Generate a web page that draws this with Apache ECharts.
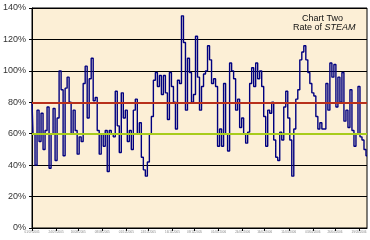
<!DOCTYPE html>
<html><head><meta charset="utf-8">
<script src="https://cdn.jsdelivr.net/npm/echarts@6/dist/echarts.min.js"></script>
<style>html,body{margin:0;padding:0;background:#fff}#c{width:370px;height:240px}</style>
</head><body><div id="c"></div>
<script>
var steamRate = [80,60,40,75,55,73,50,62,77,38,60,76,43,70,100,88,46,89,96,80,60,75,62,47,58,55,92,103,70,95,108,81,83,62,47,60,52,62,36,62,60,58,87,65,48,86,70,75,55,62,50,75,82,60,67,45,37,33,42,60,71,94,99,90,97,85,97,86,69,99,90,80,63,94,92,135,118,75,108,99,80,85,122,96,75,90,98,100,116,107,92,95,90,52,63,52,92,60,49,105,100,95,75,82,64,70,60,54,61,92,102,90,105,95,100,90,71,52,75,73,80,56,45,43,61,56,77,87,70,56,33,63,82,88,107,112,116,107,99,92,86,84,71,63,67,63,63,92,75,105,96,104,77,96,80,99,68,75,64,88,62,52,60,90,58,56,50,46];
var tickLabels = ['01/07/2005','24/07/2005','16/08/2005','08/09/2005','01/10/2005','24/10/2005','16/11/2005','09/12/2005','01/01/2006','24/01/2006','16/02/2006','11/03/2006','03/04/2006','26/04/2006','19/05/2006'];
var yTicks = [0,20,40,60,80,100,120,140];
var limitHigh = 80, limitLow = 60;

var n = steamRate.length;
var step = (n - 1) / 14.35;
var tickIdx = {};
tickLabels.forEach(function(l, k){ var i = Math.round(k * step); if (i < n) tickIdx[i] = l; });
var cats = steamRate.map(function(_, i){ return String(i); });

var chart = echarts.init(document.getElementById('c'), null, {renderer:'canvas'});
chart.setOption({
  animation:false,
  backgroundColor:'#ffffff',
  grid:{left:32,right:3,top:8,bottom:12,show:true,backgroundColor:'#fcefd6',borderColor:'#000',borderWidth:1},
  xAxis:{type:'category',data:cats,boundaryGap:false,
    axisLine:{lineStyle:{color:'#000',width:1}},
    axisTick:{show:true,length:3,lineStyle:{color:'#000'},interval:function(i){return tickIdx.hasOwnProperty(i);}},
    axisLabel:{interval:function(i){return tickIdx.hasOwnProperty(i);},formatter:function(v,i){return tickIdx[i]||'';},
      fontSize:3,color:'#888',margin:3,fontFamily:'Liberation Sans'},
    splitLine:{show:false}},
  yAxis:{type:'value',min:0,max:140,interval:20,
    axisLine:{show:true,lineStyle:{color:'#000',width:1}},
    axisTick:{show:true,length:3,lineStyle:{color:'#000'}},
    axisLabel:{formatter:function(v){return v+'%';},fontSize:9,color:'#333',margin:6,fontFamily:'Liberation Sans'},
    splitLine:{show:true,lineStyle:{color:'#000',width:1}}},
  series:[{type:'line',data:steamRate,step:'middle',symbol:'none',
    lineStyle:{color:'#000080',width:1.4},
    markLine:{silent:true,symbol:'none',label:{show:false},animation:false,
      data:[{yAxis:limitHigh,lineStyle:{color:'#b8301c',width:2,type:'solid'}},
            {yAxis:limitLow,lineStyle:{color:'#a8cc1c',width:2,type:'solid'}}]}}],
  graphic:[{type:'text',left:302,top:14,style:{text:'Chart Two',font:'9px "Liberation Sans"',fill:'#111'}},
    {type:'text',left:293,top:23,style:{text:'{a|Rate of }{b|STEAM}',rich:{a:{font:'9px "Liberation Sans"',fill:'#111'},b:{font:'italic 9px "Liberation Sans"',fill:'#111'}}}}]
});
</script></body></html>
